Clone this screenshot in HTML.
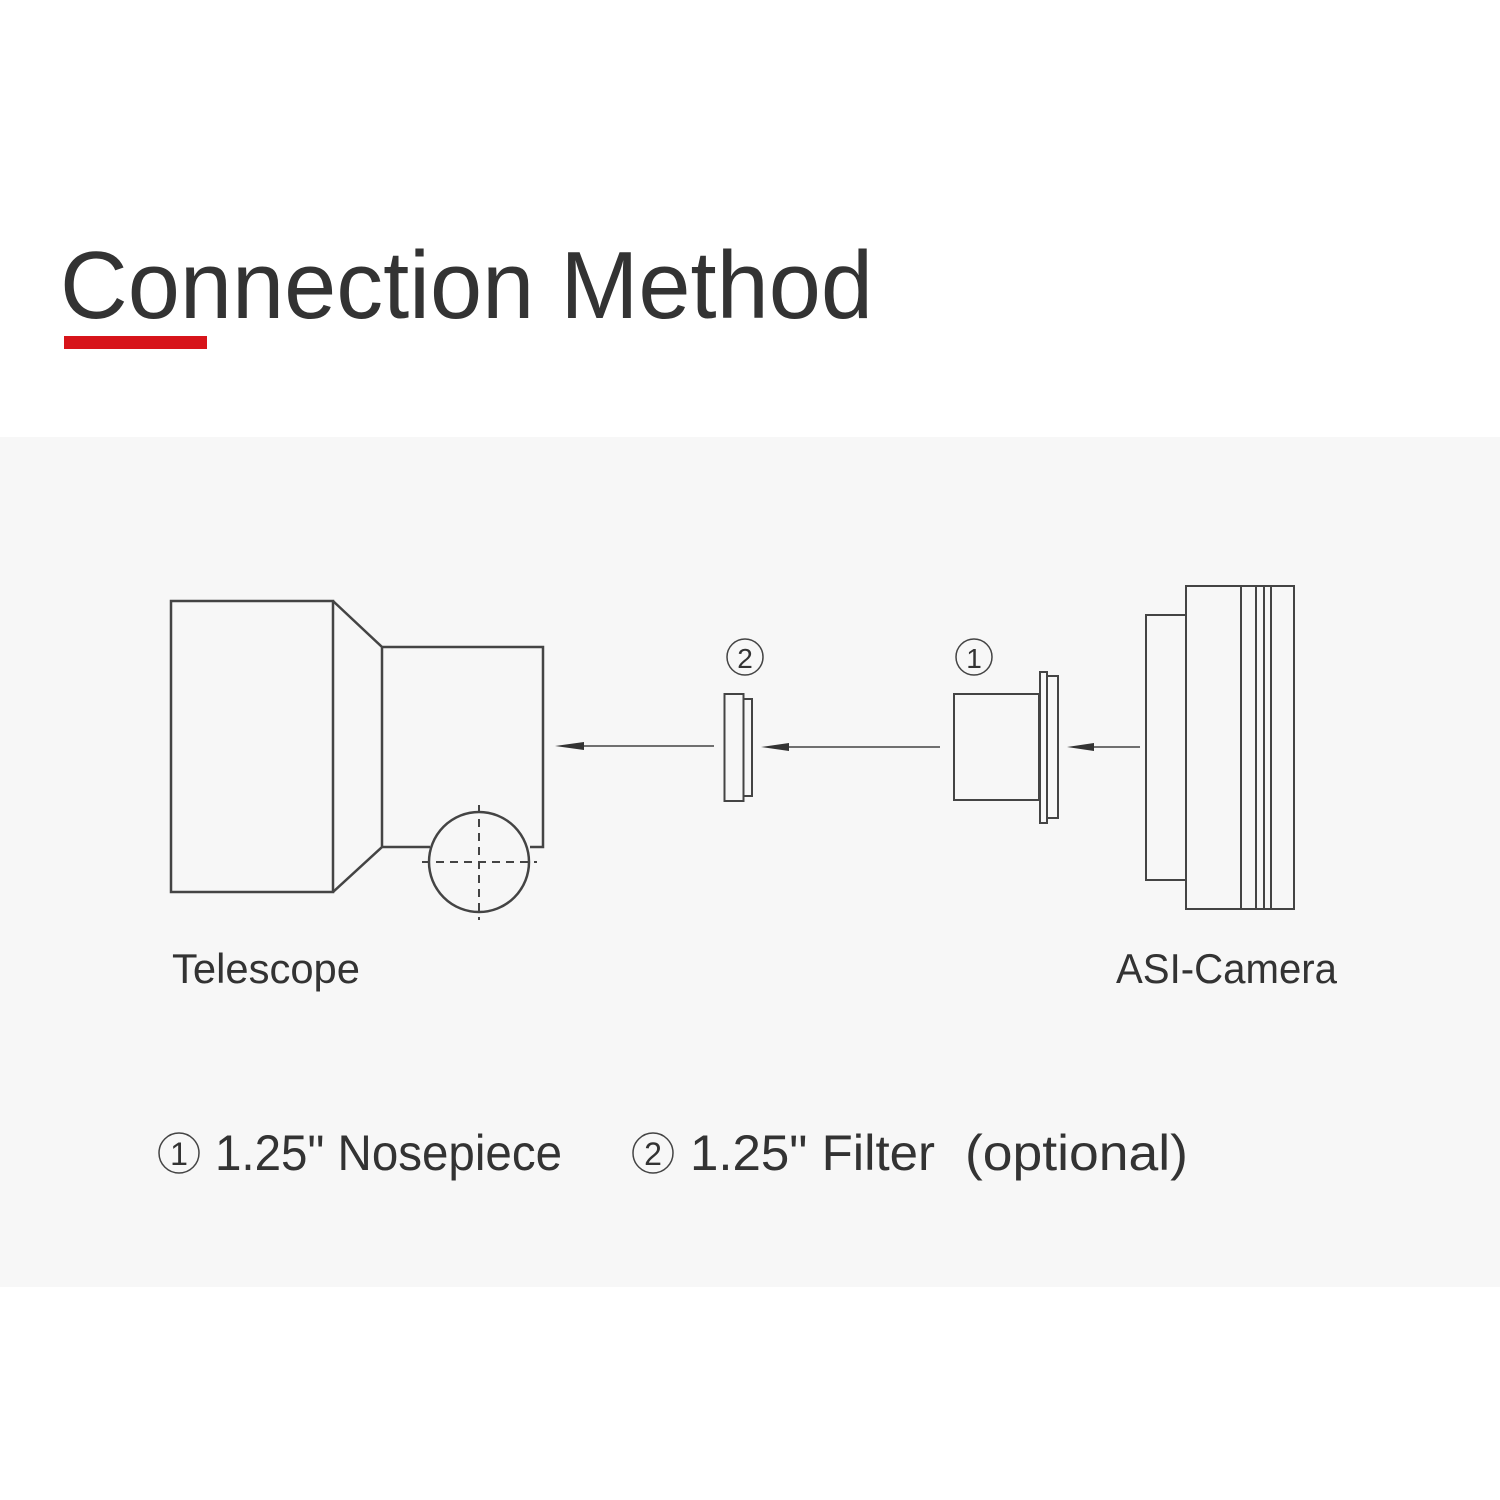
<!DOCTYPE html>
<html><head><meta charset="utf-8"><style>
html,body{margin:0;padding:0;background:#fff;}
svg{display:block;}
text{font-family:"Liberation Sans",sans-serif;fill:#333;}
</style></head><body>
<svg width="1500" height="1500" viewBox="0 0 1500 1500" xmlns="http://www.w3.org/2000/svg">
<rect x="0" y="0" width="1500" height="1500" fill="#fff"/>
<text x="60" y="318" font-size="96" textLength="813" lengthAdjust="spacingAndGlyphs">Connection Method</text>
<rect x="64" y="336" width="143" height="13" fill="#d7141a"/>
<rect x="0" y="437" width="1500" height="850" fill="#f7f7f7"/>
<g fill="none" stroke="#444" stroke-width="2.5">
<rect x="171" y="601" width="162" height="291"/>
<polyline points="333,601 382,647 382,847 333,892"/>
<polyline points="382,647 543,647 543,847 530,847"/>
<line x1="382" y1="847" x2="430" y2="847"/>
<circle cx="479" cy="862" r="50"/>
<line x1="422" y1="862" x2="537" y2="862" stroke-dasharray="8,6" stroke-width="2"/>
<line x1="479" y1="805" x2="479" y2="920" stroke-dasharray="8,6" stroke-width="2"/>
<rect x="724.5" y="694" width="19" height="107" stroke-width="2"/>
<rect x="743.5" y="699" width="8.5" height="97" stroke-width="2"/>
<rect x="954" y="694" width="85" height="106" stroke-width="2"/>
<rect x="1040" y="672" width="7" height="151" stroke-width="2"/>
<rect x="1047" y="676" width="11" height="142" stroke-width="2"/>
<rect x="1146" y="615" width="40" height="265" stroke-width="2"/>
<rect x="1186" y="586" width="108" height="323" stroke-width="2"/>
<line x1="1241" y1="586" x2="1241" y2="909" stroke-width="2"/>
<line x1="1256" y1="586" x2="1256" y2="909" stroke-width="2"/>
<line x1="1264" y1="586" x2="1264" y2="909" stroke-width="2"/>
<line x1="1271" y1="586" x2="1271" y2="909" stroke-width="2"/>
</g>
<g stroke="#444" stroke-width="1.5">
<line x1="570" y1="746" x2="714" y2="746"/>
<line x1="780" y1="747" x2="940" y2="747"/>
<line x1="1085" y1="747" x2="1140" y2="747"/>
</g>
<g fill="#333">
<polygon points="555,746 584,742 584,750"/>
<polygon points="761,747 789,743 789,751"/>
<polygon points="1067,747 1094,743 1094,751"/>
</g>
<g fill="none" stroke="#444" stroke-width="1.5">
<circle cx="745" cy="657" r="18"/>
<circle cx="974" cy="657" r="18"/>
<circle cx="179" cy="1153" r="20"/>
<circle cx="653" cy="1153" r="20"/>
</g>
<text x="745" y="668" font-size="28" text-anchor="middle">2</text>
<text x="974" y="668" font-size="28" text-anchor="middle">1</text>
<text x="179" y="1165" font-size="32" text-anchor="middle">1</text>
<text x="653" y="1165" font-size="32" text-anchor="middle">2</text>
<text x="172" y="983" font-size="42" textLength="188" lengthAdjust="spacingAndGlyphs">Telescope</text>
<text x="1116" y="983" font-size="42" textLength="221" lengthAdjust="spacingAndGlyphs">ASI-Camera</text>
<text x="215" y="1170" font-size="50" textLength="347" lengthAdjust="spacingAndGlyphs">1.25" Nosepiece</text>
<text x="690" y="1170" font-size="50" textLength="245" lengthAdjust="spacingAndGlyphs">1.25" Filter</text>
<text x="965" y="1170" font-size="50" textLength="223" lengthAdjust="spacingAndGlyphs">(optional)</text>
</svg>
</body></html>
